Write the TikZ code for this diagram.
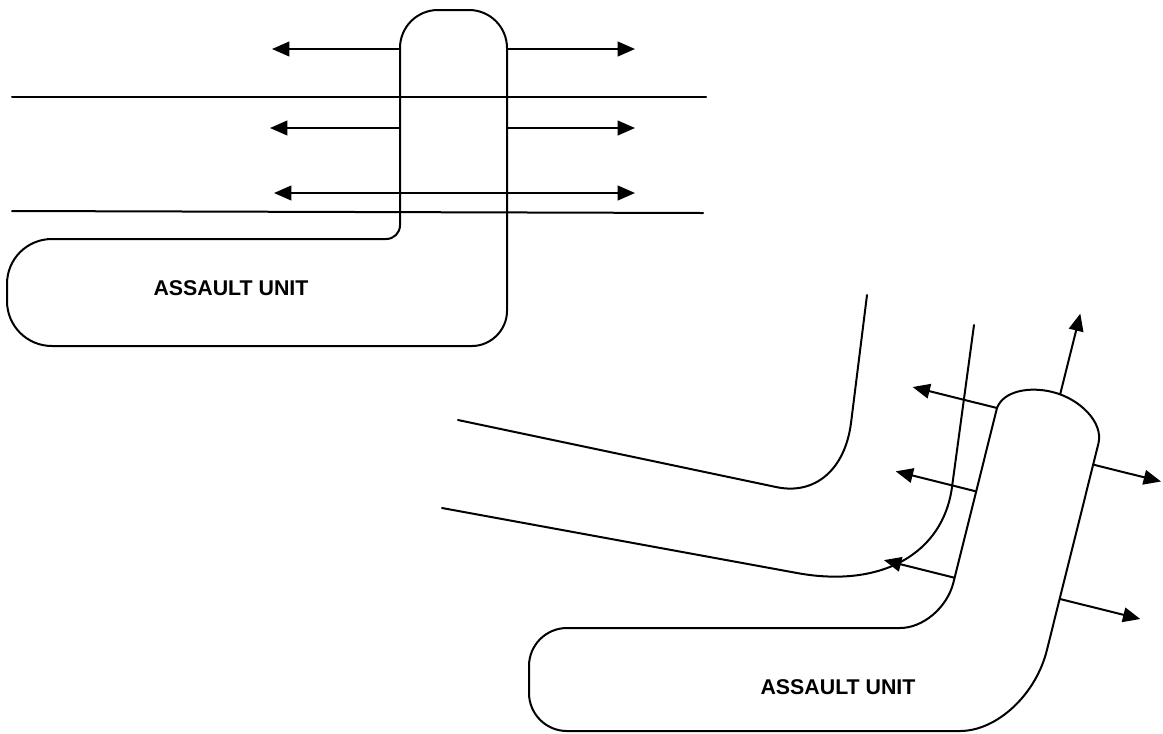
\documentclass[tikz,border=0pt]{standalone}
\usepackage{fontspec}
\setmainfont{Liberation Sans}
\usetikzlibrary{arrows.meta}
\tikzset{
  outline/.style={line width=1.5pt, line join=round},
  road/.style={line width=1.5pt, line cap=round},
  arr/.style={line width=1.5pt, -{Triangle[length=13pt,width=11pt]}},
  darr/.style={line width=1.5pt, {Triangle[length=13pt,width=11pt]}-{Triangle[length=13pt,width=11pt]}},
  unitlabel/.style={font=\bfseries\fontsize{16}{19}\selectfont, inner sep=0pt}
}
\begin{document}
\begin{tikzpicture}[x=0.75pt,y=-0.75pt]
\useasboundingbox (0,0) rectangle (1163,733);

% ---------- upper figure ----------
\draw[road] (12,97) -- (706,97);
\draw[road] (12,211) -- (703,213);

\draw[outline] (400,48) .. controls (400,27) and (417,10) .. (438,10)
  -- (469,10) .. controls (490,10) and (507,27) .. (507,48)
  -- (507,311) .. controls (507,330) and (491,346) .. (472,346)
  -- (52,346) .. controls (27,346) and (7,326) .. (7,301)
  -- (7,284) .. controls (7,259) and (27,239) .. (52,239)
  -- (386,239) .. controls (394,239) and (400,233) .. (400,225) -- cycle;

\coordinate (ul1) at (400,49);   \coordinate (ul1t) at (272,49);
\coordinate (ur1) at (507,49);   \coordinate (ur1t) at (635,49);
\coordinate (ul2) at (400,128);  \coordinate (ul2t) at (270,128);
\coordinate (ur2) at (507,128);  \coordinate (ur2t) at (635,128);
\coordinate (u3l) at (274,193);  \coordinate (u3r) at (635,193);

\draw[arr] (ul1) -- (ul1t);
\draw[arr] (ur1) -- (ur1t);
\draw[arr] (ul2) -- (ul2t);
\draw[arr] (ur2) -- (ur2t);
\draw[darr] (u3l) -- (u3r);

\node[unitlabel] (unitA) at (231,288) {ASSAULT UNIT};

% ---------- lower figure ----------
\draw[road] (458,420) -- (776,487) .. controls (815,495.4) and (845,469.7) .. (851,423) -- (867,295);
\draw[road] (442,508) -- (797,573) .. controls (881,588.4) and (943,554) .. (952,487) -- (974,325);

\draw[outline] (997,408) .. controls (1003.3,391.0) and (1029.2,386.2) .. (1052.5,392.0)
  .. controls (1079.7,398.7) and (1103.7,422.3) .. (1098.4,443.6)
  -- (1046.9,650) .. controls (1036,694.6) and (996.9,731) .. (960,731)
  -- (567,731) .. controls (546,731) and (529,714) .. (529,693)
  -- (529,666) .. controls (529,645) and (546,628) .. (567,628)
  -- (900,628) .. controls (923.1,628) and (947.1,607.6) .. (953.4,582.6)
  -- cycle;

\coordinate (bup) at (1060.2,394.2);  \coordinate (bupt) at (1080.3,313.6);
\coordinate (bl1) at (997,408);       \coordinate (bl1t) at (912.6,387);
\coordinate (bl2) at (976.2,491.4);   \coordinate (bl2t) at (895.7,471.3);
\coordinate (bl3) at (954.7,577.8);   \coordinate (bl3t) at (883.9,560.1);
\coordinate (br1) at (1093.2,464.6);  \coordinate (br1t) at (1161,481.5);
\coordinate (br2) at (1059.7,598.9);  \coordinate (br2t) at (1140.3,619);

\draw[arr] (bup) -- (bupt);
\draw[arr] (bl1) -- (bl1t);
\draw[arr] (bl2) -- (bl2t);
\draw[arr] (bl3) -- (bl3t);
\draw[arr] (br1) -- (br1t);
\draw[arr] (br2) -- (br2t);

\node[unitlabel] (unitB) at (838,687) {ASSAULT UNIT};
\end{tikzpicture}
\end{document}
